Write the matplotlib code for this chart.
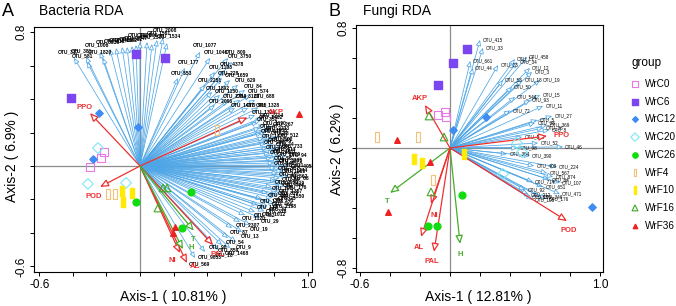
import numpy as np
import matplotlib.pyplot as plt

plt.rcParams['font.family'] = ['Liberation Sans', 'DejaVu Sans']

# ---------------- data ----------------
groups = ['WrC0', 'WrC6', 'WrC12', 'WrC20', 'WrC26', 'WrF4', 'WrF10', 'WrF16', 'WrF36']

# bacteria RDA: sample scores, one list per group
a_site_x = [[-0.214, -0.232, -0.298], [-0.024, 0.149, -0.411], [-0.244, -0.012, -0.280],
            [-0.250, -0.310, -0.083], [-0.024, 0.304, 0.250], [-0.190, -0.149, 0.458],
            [-0.107, -0.048, -0.101], [0.137, 0.161, 0.107], [0.946, 0.208, 0.196]]
a_site_y = [[0.084, 0.048, -0.006], [0.669, 0.645, 0.406], [0.316, 0.233, 0.042],
            [0.107, -0.107, -0.101], [-0.215, -0.155, -0.370], [-0.167, -0.167, 0.215],
            [-0.149, -0.161, -0.215], [-0.131, -0.131, -0.251], [0.310, -0.364, -0.400]]

a_env = ['PPO', 'POD', 'AKP', 'PAL', 'NI', 'AL', 'T', 'H']
a_env_x = [-0.298, -0.238, 0.640, 0.435, 0.238, 0.280, 0.320, 0.256]
a_env_y = [0.316, -0.125, 0.290, -0.472, -0.520, -0.580, -0.386, -0.497]

a_otu = ['OTU_317', 'OTU_581', 'OTU_381', 'OTU_1006', 'OTU_1820', 'OTU_3536', 'OTU_613', 'OTU_2416',
         'OTU_1932', 'OTU_2862', 'OTU_3047', 'OTU_2105', 'OTU_606', 'OTU_2309', 'OTU_1561', 'OTU_2008',
         'OTU_1534',
         'OTU_1077', 'OTU_1046', 'OTU_177', 'OTU_553', 'OTU_809', 'OTU_3750', 'OTU_4378', 'OTU_1103',
         'OTU_228', 'OTU_1659', 'OTU_629', 'OTU_2251', 'OTU_1892', 'OTU_1150', 'OTU_84', 'OTU_574',
         'OTU_3120', 'OTU_2764', 'OTU_1328', 'OTU_905', 'OTU_2096', 'OTU_1417', 'OTU_688',
         'OTU_1326', 'OTU_2714', 'OTU_352', 'OTU_1190', 'OTU_47', 'OTU_2233', 'OTU_615', 'OTU_88',
         'OTU_1471', 'OTU_302', 'OTU_2567', 'OTU_74', 'OTU_1688', 'OTU_413', 'OTU_205', 'OTU_1029',
         'OTU_56', 'OTU_3305', 'OTU_149', 'OTU_721', 'OTU_38', 'OTU_1244', 'OTU_191', 'OTU_562',
         'OTU_60', 'OTU_2980', 'OTU_444', 'OTU_103', 'OTU_1357', 'OTU_662', 'OTU_25', 'OTU_1785',
         'OTU_460', 'OTU_139', 'OTU_318',
         'OTU_1402', 'OTU_267', 'OTU_1938', 'OTU_512', 'OTU_2045', 'OTU_733', 'OTU_1611', 'OTU_94',
         'OTU_2871', 'OTU_405', 'OTU_1263', 'OTU_68', 'OTU_3419', 'OTU_176', 'OTU_829', 'OTU_1550',
         'OTU_241', 'OTU_2198', 'OTU_37', 'OTU_1012',
         'OTU_452', 'OTU_1120', 'OTU_29', 'OTU_2307', 'OTU_19', 'OTU_87', 'OTU_13', 'OTU_54',
         'OTU_9', 'OTU_859', 'OTU_1468', 'OTU_98', 'OTU_18', 'OTU_9853', 'OTU_569']
a_x = [-0.393, -0.315, -0.321, -0.238, -0.220, -0.179, -0.143, -0.107, -0.077, -0.048, -0.024,
       0.000, 0.042, 0.071, 0.101, 0.137, 0.161,
       0.357, 0.417, 0.268, 0.226, 0.524, 0.548, 0.506, 0.446, 0.488, 0.536, 0.583, 0.387,
       0.429, 0.476, 0.625, 0.655, 0.595, 0.524, 0.702, 0.643, 0.446, 0.565, 0.685,
       0.685, 0.726, 0.702, 0.744, 0.714, 0.762, 0.726, 0.774, 0.738, 0.786, 0.750, 0.798,
       0.762, 0.804, 0.774, 0.821, 0.786, 0.833, 0.798, 0.845, 0.810, 0.857, 0.821, 0.869,
       0.833, 0.810, 0.845, 0.786, 0.833, 0.762, 0.810, 0.726, 0.786, 0.702, 0.750,
       0.720, 0.790, 0.750, 0.820, 0.770, 0.840, 0.800, 0.870, 0.830, 0.890, 0.850, 0.880,
       0.840, 0.860, 0.820, 0.840, 0.790, 0.800, 0.760, 0.740,
       0.685, 0.625, 0.714, 0.595, 0.655, 0.548, 0.607, 0.524, 0.571, 0.488, 0.536, 0.429,
       0.464, 0.387, 0.327]
a_y = [0.645, 0.621, 0.651, 0.681, 0.645, 0.699, 0.704, 0.710, 0.710, 0.716, 0.722,
       0.740, 0.740, 0.728, 0.752, 0.764, 0.734,
       0.681, 0.645, 0.585, 0.525, 0.645, 0.621, 0.573, 0.561, 0.525, 0.513, 0.484, 0.484,
       0.442, 0.424, 0.454, 0.424, 0.394, 0.394, 0.346, 0.346, 0.364, 0.346, 0.394,
       0.304, 0.287, 0.263, 0.245, 0.227, 0.215, 0.197, 0.185, 0.167, 0.155, 0.137, 0.125,
       0.107, 0.096, 0.078, 0.066, 0.048, 0.036, 0.018, 0.006, -0.012, -0.024, -0.042, -0.054,
       -0.072, -0.090, -0.107, -0.125, -0.143, -0.161, -0.179, -0.197, -0.215, -0.233, -0.251,
       0.275, 0.235, 0.205, 0.175, 0.145, 0.115, 0.085, 0.060, 0.030, 0.000, -0.030, -0.065,
       -0.095, -0.120, -0.150, -0.170, -0.190, -0.225, -0.240, -0.270,
       -0.275, -0.293, -0.310, -0.334, -0.352, -0.370, -0.394, -0.430, -0.454, -0.472, -0.490,
       -0.454, -0.501, -0.513, -0.549]

# fungi RDA
b_site_x = [[-0.080, -0.033, -0.027], [0.113, 0.020, -0.080], [0.240, 0.020, 0.947],
            [0.447, 0.353, 0.480], [0.080, -0.147, -0.087], [-0.487, -0.213, -0.113],
            [-0.240, -0.187, 0.093], [-0.140, -0.040, -0.127], [-0.353, -0.133, -0.413]]
b_site_y = [[0.220, 0.240, 0.207], [0.660, 0.567, 0.420], [0.207, 0.120, -0.393],
            [0.033, -0.173, -0.027], [-0.313, -0.520, -0.520], [0.073, 0.073, -0.213],
            [-0.073, -0.100, -0.040], [0.213, 0.073, -0.293], [0.053, -0.093, -0.427]]

b_env = ['AKP', 'PPO', 'POD', 'T', 'H', 'NI', 'AL', 'PAL']
b_env_x = [-0.167, 0.647, 0.780, -0.400, 0.067, -0.127, -0.193, -0.107]
b_env_y = [0.287, 0.080, -0.487, -0.300, -0.640, -0.373, -0.593, -0.693]

b_otu = ['OTU_415', 'OTU_33', 'OTU_661', 'OTU_44', 'OTU_23', 'OTU_17', 'OTU_458', 'OTU_34',
         'OTU_12', 'OTU_3', 'OTU_58', 'OTU_18', 'OTU_19', 'OTU_50', 'OTU_544', 'OTU_15',
         'OTU_93', 'OTU_11', 'OTU_72', 'OTU_27', 'OTU_5', 'OTU_38', 'OTU_369', 'OTU_36',
         'OTU_8', 'OTU_158', 'OTU_52', 'OTU_46', 'OTU_98', 'OTU_384', 'OTU_390', 'OTU_224',
         'OTU_409', 'OTU_567', 'OTU_874', 'OTU_64', 'OTU_714', 'OTU_107', 'OTU_651', 'OTU_92',
         'OTU_471', 'OTU_120', 'OTU_346', 'OTU_212', 'OTU_176', 'OTU_106']
b_x = [0.200, 0.220, 0.135, 0.153, 0.320, 0.433, 0.513, 0.447, 0.533, 0.547, 0.353, 0.480,
       0.600, 0.413, 0.433, 0.600, 0.533, 0.620, 0.400, 0.680, 0.580, 0.567, 0.647, 0.620,
       0.660, 0.480, 0.587, 0.753, 0.450, 0.380, 0.533, 0.713, 0.560, 0.647, 0.687, 0.660,
       0.553, 0.733, 0.620, 0.500, 0.733, 0.533, 0.600, 0.520, 0.640, 0.550]
b_y = [0.720, 0.667, 0.580, 0.533, 0.553, 0.593, 0.607, 0.573, 0.533, 0.507, 0.453, 0.453,
       0.453, 0.407, 0.340, 0.353, 0.320, 0.280, 0.250, 0.213, 0.187, 0.167, 0.153, 0.133,
       0.120, 0.073, 0.033, 0.007, 0.000, -0.040, -0.053, -0.127, -0.120, -0.167, -0.193, -0.210,
       -0.227, -0.233, -0.260, -0.280, -0.307, -0.327, -0.327, -0.310, -0.340, -0.345]

# ---------------- styles ----------------
otu_col = '#4ea6e6'
red = '#ee3030'
green = '#45ad2a'
env_col = {'PPO': red, 'POD': red, 'AKP': red, 'PAL': red, 'NI': red, 'AL': red, 'T': green, 'H': green}
rect = [(-0.35, -1), (0.35, -1), (0.35, 1), (-0.35, 1), (-0.35, -1)]
sty = {
    'WrC0': dict(marker='s', facecolors='none', edgecolors='#e67ae6', s=36, linewidths=0.8),
    'WrC6': dict(marker='s', facecolors='#7b45f0', edgecolors='#7b45f0', s=36),
    'WrC12': dict(marker='D', facecolors='#3f8cf5', edgecolors='#3f8cf5', s=14),
    'WrC20': dict(marker='D', facecolors='none', edgecolors='#7ee8f6', s=30, linewidths=0.8),
    'WrC26': dict(marker='o', facecolors='#10dd10', edgecolors='#10dd10', s=24),
    'WrF4': dict(marker=rect, facecolors='none', edgecolors='#f4c07a', s=44, linewidths=0.8),
    'WrF10': dict(marker=rect, facecolors='#ffea00', edgecolors='#ffea00', s=44),
    'WrF16': dict(marker='^', facecolors='none', edgecolors='#3faa2a', s=30, linewidths=0.8),
    'WrF36': dict(marker='^', facecolors='#ee2020', edgecolors='#ee2020', s=16),
}
# label offsets for the environmental arrows
a_off = {'PPO': (-0.03, 0.035), 'POD': (-0.036, -0.055), 'AKP': (0.17, 0.03), 'PAL': (0.03, -0.055),
         'NI': (-0.045, -0.047), 'AL': (0.045, -0.02), 'T': (0.0, -0.05), 'H': (0.05, 0.01)}
b_off = {'AKP': (-0.035, 0.04), 'PPO': (0.1, 0.0), 'POD': (0.013, -0.06), 'T': (-0.02, -0.06),
         'H': (0.0, -0.07), 'NI': (0.02, -0.08), 'AL': (-0.013, -0.07), 'PAL': (-0.013, -0.067)}

fig = plt.figure(figsize=(6.76, 3.06), dpi=100)
axA = fig.add_axes([34 / 676, 1 - 272 / 306, 278 / 676, 245 / 306])
axB = fig.add_axes([356 / 676, 1 - 272 / 306, 247 / 676, 247 / 306])


def arrow(ax, x, y, col, lw, ms, z):
    ax.annotate('', xy=(x, y), xytext=(0, 0),
                arrowprops=dict(arrowstyle='-|>,head_length=0.5,head_width=0.22', ec=col, fc='white',
                                lw=lw, shrinkA=0, shrinkB=0, mutation_scale=ms), zorder=z)


def panel(ax, xlim, ylim, yt, sx, sy, otu, ox, oy, env, ex, ey, off, lab_right):
    ax.set_xlim(*xlim)
    ax.set_ylim(*ylim)
    ax.axhline(0, color='#8c8c8c', lw=0.9, zorder=1)
    ax.axvline(0, color='#8c8c8c', lw=0.9, zorder=1)
    for name, x, y in zip(otu, ox, oy):
        arrow(ax, x, y, otu_col, 0.55, 7, 2)
        if lab_right:
            ax.text(x + 0.015, y, name, fontsize=3.3, ha='left', va='center', zorder=3)
        else:
            ax.text(x * 1.08, y * 1.06, name, fontsize=3.6, fontweight='bold', ha='center',
                    va='center', zorder=3)
    for name, x, y in zip(env, ex, ey):
        arrow(ax, x, y, env_col[name], 0.9, 10, 4)
        dx, dy = off[name]
        ax.text(x + dx, y + dy, name, fontsize=5.5, fontweight='bold', color=env_col[name],
                ha='center', va='center', zorder=5)
    for g, xs, ys in zip(groups, sx, sy):
        ax.scatter(xs, ys, zorder=6, **sty[g])
    xt = np.round(np.arange(-0.6, 1.01, 0.2), 1)
    ax.set_xticks(xt)
    ax.set_xticklabels(['-0.6'] + [''] * (len(xt) - 2) + ['1.0'])
    ax.set_yticks(yt)
    ax.set_yticklabels(['%.1f' % yt[0]] + [''] * (len(yt) - 2) + ['%.1f' % yt[-1]],
                       rotation=90, va='center')
    ax.tick_params(direction='out', length=3, width=0.7, labelsize=8.5, pad=2)
    for s in ax.spines.values():
        s.set_linewidth(0.8)


panel(axA, (-0.631, 1.024), (-0.633, 0.83), np.round(np.arange(-0.6, 0.81, 0.2), 1),
      a_site_x, a_site_y, a_otu, a_x, a_y, a_env, a_env_x, a_env_y, a_off, False)
panel(axB, (-0.627, 1.02), (-0.827, 0.82), np.round(np.arange(-0.8, 0.81, 0.2), 1),
      b_site_x, b_site_y, b_otu, b_x, b_y, b_env, b_env_x, b_env_y, b_off, True)

# titles and axis titles
fig.text(2 / 676, 1 - 11 / 306, 'A', fontsize=13, ha='left', va='center')
fig.text(39 / 676, 1 - 11 / 306, 'Bacteria RDA', fontsize=10, ha='left', va='center')
fig.text(328 / 676, 1 - 11 / 306, 'B', fontsize=13, ha='left', va='center')
fig.text(363 / 676, 1 - 11 / 306, 'Fungi RDA', fontsize=10, ha='left', va='center')
fig.text(173 / 676, 1 - 297 / 306, 'Axis-1 ( 10.81% )', fontsize=10, ha='center', va='center')
fig.text(478 / 676, 1 - 297 / 306, 'Axis-1 ( 12.81% )', fontsize=10, ha='center', va='center')
fig.text(12 / 676, 1 - 156 / 306, 'Axis-2 ( 6.9% )', fontsize=10, rotation=90, ha='center', va='center')
fig.text(337 / 676, 1 - 149 / 306, 'Axis-2 ( 6.2% )', fontsize=10, rotation=90, ha='center', va='center')

# legend drawn in pixel space
lg = fig.add_axes([0, 0, 1, 1], facecolor='none')
lg.set_xlim(0, 676)
lg.set_ylim(306, 0)
lg.axis('off')
lg.text(632, 63, 'group', fontsize=8.5, ha='left', va='center')
for i, g in enumerate(groups):
    yy = 84 + i * 17.7
    st = dict(sty[g])
    st['s'] = st['s'] * 0.6
    lg.scatter([635], [yy], **st)
    lg.text(645, yy, g, fontsize=7.2, ha='left', va='center')

fig.savefig('out.png', dpi=100)
